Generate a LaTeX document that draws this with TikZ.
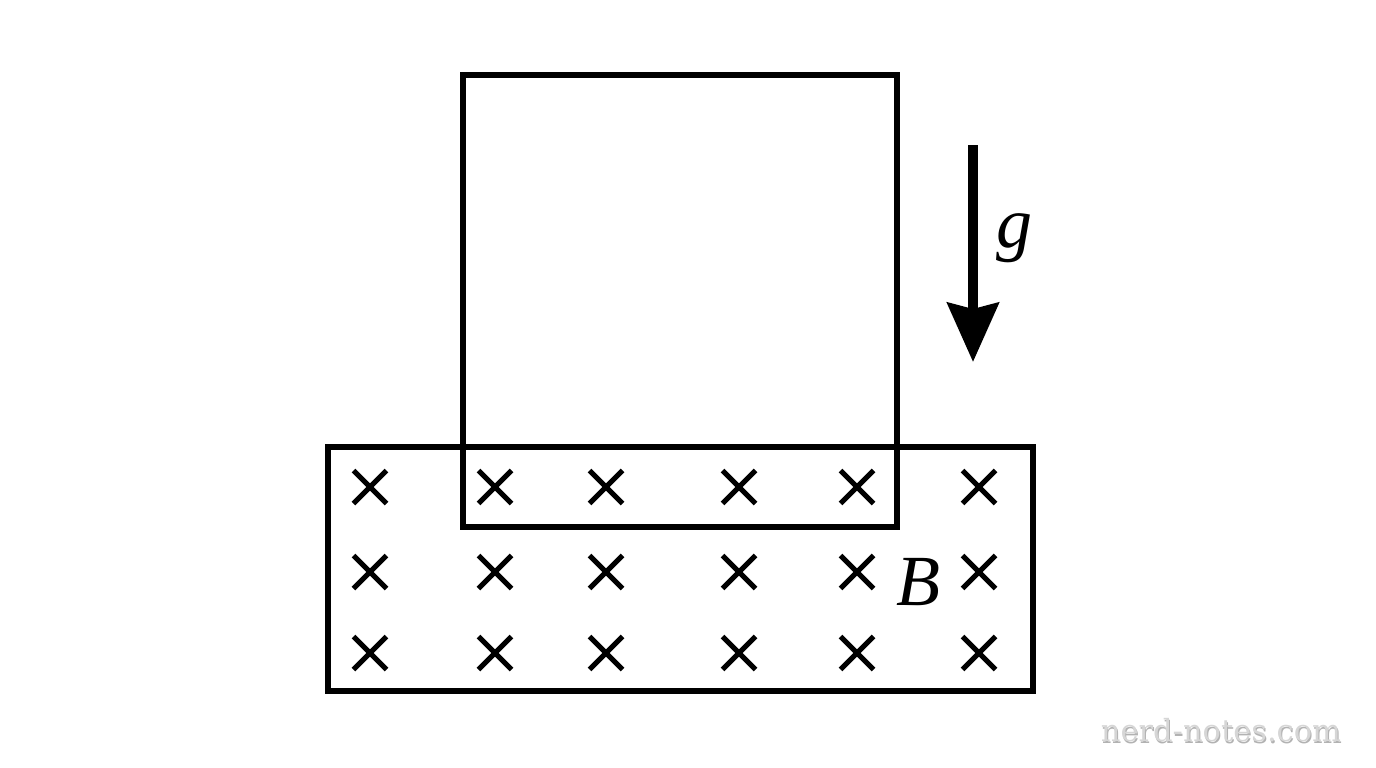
\documentclass[tikz,border=0pt]{standalone}
\usepackage{fontspec}
\setmainfont{Liberation Serif}
\newfontfamily\wmfont{DejaVu Serif}
\usetikzlibrary{arrows.meta}
\tikzset{frame/.style={line width=6pt},
  fieldcross/.style={line width=5pt},
  gravity/.style={line width=10pt,-{Stealth[width=51pt,length=59pt,inset=6pt]}},
  letter/.style={inner sep=0pt,font=\fontsize{72}{80}\selectfont\itshape},
  watermark/.style={inner sep=0pt,text=black!16,font=\wmfont\fontsize{30.5}{34}\selectfont}}

\begin{document}
\begin{tikzpicture}[x=1pt,y=-1pt]
    \useasboundingbox (0,0) rectangle (1376,768);
    \draw[frame] (328,447) rectangle (1033,691);
    \draw[frame] (463,75) rectangle (897,527);
    \foreach \x in {370,495,606,739,857,979}
      \foreach \y in {487,572,653}
        \draw[fieldcross] (\x-16.5,\y-16.5) -- (\x+16.5,\y+16.5)
                          (\x-16.5,\y+16.5) -- (\x+16.5,\y-16.5);
    \coordinate (gtop) at (973,145);
    \coordinate (gtip) at (973,362);
    \draw[gravity] (gtop) -- (gtip);
    \node[letter] (g) at (1014,238) {g};
    \node[letter] (B) at (918,582) {B};
    \node[watermark,text=black!30] (wmshadow) at (1222,732) {nerd-notes.com};
    \node[watermark] (wm) at (1221,730) {nerd-notes.com};
  \end{tikzpicture}
\end{document}
